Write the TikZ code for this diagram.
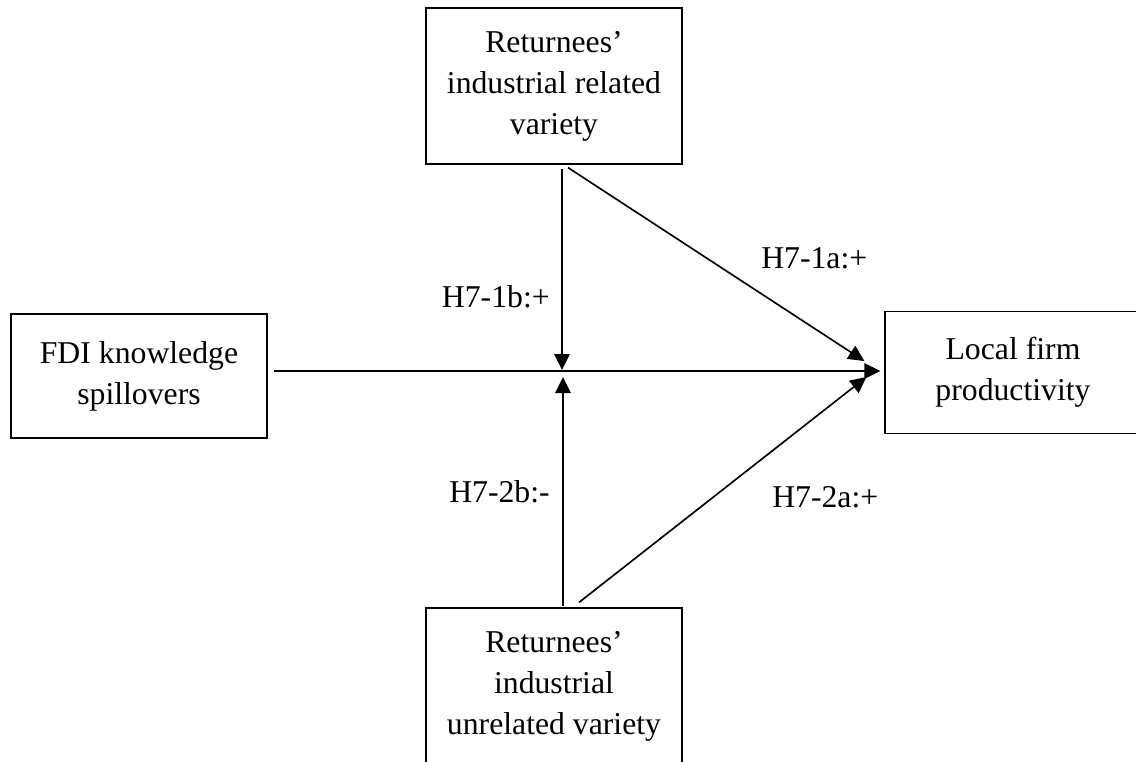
\documentclass[tikz,border=0pt]{standalone}
\usepackage{fontspec}
\setmainfont{Liberation Serif}
\usetikzlibrary{arrows.meta}
\begin{document}
\begin{tikzpicture}[x=0.75pt,y=-0.75pt,
  box/.style={draw, line width=0.9pt, align=center, inner sep=0pt,
    minimum width=192pt,
    font=\fontsize{23.8pt}{30.75pt}\selectfont},
  lbl/.style={font=\fontsize{23.8pt}{30.75pt}\selectfont, inner sep=0pt},
  arr/.style={line width=1.25pt, -{Triangle[length=12pt,width=11.5pt]}}]
\clip (0,0) rectangle (1136,761);

% variables
\node[box, minimum height=117pt] (rel)   at (554,86)    {Returnees’\\industrial related\\variety};
\node[box, minimum height=93pt]  (fdi)   at (139,376)   {FDI knowledge\\spillovers};
\node[box, minimum height=92pt]  (local) at (1013,372.5) {Local firm\\productivity};
\node[box, minimum height=117pt] (unrel) at (554,686)   {Returnees’\\industrial\\unrelated variety};

% moderation point on the main path
\coordinate (j) at (563,371);

% main effect
\draw[arr] ([xshift=4.5pt]fdi.east |- j) -- ([xshift=-3pt]local.west |- j);

% moderating effects
\draw[arr] ([xshift=6pt,yshift=-3pt]rel.south) -- ([xshift=-0.75pt,yshift=0.75pt]j);
\draw[arr] ([xshift=6.75pt,yshift=0.75pt]unrel.north) -- ([yshift=-4.5pt]j);

% direct effects
\draw[arr] ([xshift=10.5pt,yshift=-2.25pt]rel.south) -- ([xshift=-15pt,yshift=8.6pt]local.west);
\draw[arr] ([xshift=18.75pt,yshift=3.75pt]unrel.north) -- ([xshift=-13.5pt,yshift=-3.4pt]local.west);

% hypothesis labels
\node[lbl, anchor=base east] (h1b) at (550,307) {H7-1b:+};
\node[lbl, anchor=base west] (h1a) at (761,268) {H7-1a:+};
\node[lbl, anchor=base east] (h2b) at (550,502) {H7-2b:-};
\node[lbl, anchor=base west] (h2a) at (772,507) {H7-2a:+};
\end{tikzpicture}
\end{document}
